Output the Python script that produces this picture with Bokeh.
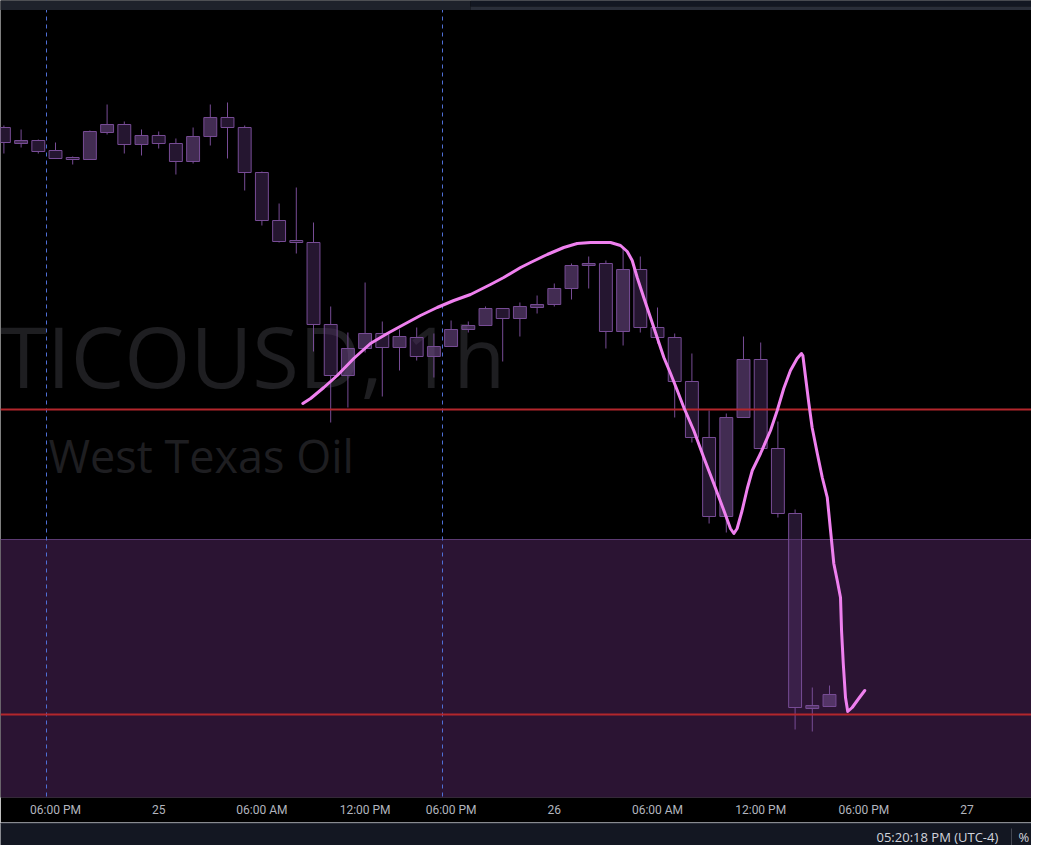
from bokeh.plotting import figure
from bokeh.layouts import column
from bokeh.models import Range1d, FixedTicker, ColumnDataSource, Label
from bokeh.core.properties import value
from bokeh.embed import file_html
from bokeh.resources import INLINE

# ---------------- data ----------------
bar = list(range(-3, 46))  # hourly bar index (0 = Jun 24, 06:00 PM)
opens = [79.73, 79.57, 79.60, 79.50, 79.43, 79.41, 79.68, 79.76, 79.56, 79.65,
         79.57, 79.39, 79.64, 79.83, 79.73, 79.28, 78.80, 78.60, 78.58, 77.76,
         77.25, 77.52, 77.67, 77.53, 77.63, 77.44, 77.54, 77.71, 77.75, 77.92,
         77.82, 77.93, 77.96, 78.12, 78.35, 78.37, 77.69, 78.31, 77.73, 77.63,
         77.19, 76.63, 75.84, 76.83, 77.41, 76.52, 75.87, 73.92, 73.94]
highs = [79.75, 79.71, 79.61, 79.58, 79.44, 79.70, 79.96, 79.79, 79.71, 79.69,
         79.62, 79.73, 79.96, 79.98, 79.75, 79.29, 78.97, 79.13, 78.78, 77.94,
         77.68, 78.18, 77.79, 77.71, 77.73, 77.67, 77.80, 77.79, 77.94, 77.92,
         77.98, 78.05, 78.17, 78.37, 78.44, 78.40, 78.52, 78.44, 77.93, 77.67,
         77.47, 76.90, 76.87, 77.64, 77.58, 76.79, 75.91, 74.13, 74.15]
lows = [79.47, 79.53, 79.47, 79.42, 79.36, 79.41, 79.66, 79.47, 79.45, 79.52,
        79.26, 79.37, 79.55, 79.42, 79.10, 78.75, 78.58, 78.47, 77.49, 76.78,
        76.93, 77.48, 77.04, 77.30, 77.40, 77.23, 77.54, 77.68, 77.75, 77.39,
        77.64, 77.87, 77.94, 78.01, 78.12, 77.52, 77.55, 77.68, 77.57, 76.83,
        76.58, 75.77, 75.68, 76.83, 76.52, 75.83, 73.71, 73.69, 73.94]
closes = [79.58, 79.60, 79.49, 79.42, 79.41, 79.69, 79.76, 79.56, 79.65, 79.57,
          79.39, 79.64, 79.83, 79.73, 79.28, 78.80, 78.59, 78.58, 77.76, 77.25,
          77.52, 77.67, 77.53, 77.64, 77.44, 77.54, 77.71, 77.75, 77.92, 77.82,
          77.94, 77.96, 78.12, 78.35, 78.37, 77.69, 78.31, 77.73, 77.63, 77.19,
          76.63, 75.84, 76.83, 77.41, 76.52, 75.87, 73.93, 73.95, 74.06]

tick_bars = [0, 6, 12, 18, 23, 29, 35, 41, 47, 53]
tick_labels = ["06:00 PM", "25", "06:00 AM", "12:00 PM", "06:00 PM",
               "26", "06:00 AM", "12:00 PM", "06:00 PM", "27"]

session_breaks = [-0.5, 22.5]
levels = [76.91, 73.86]          # horizontal red lines
zone_top = [75.61]               # purple rectangle
zone_bottom = [70.0]

# freehand pink drawing (bar index, price)
pen_x = [14.38, 14.83, 15.60, 16.38, 17.34, 18.31, 19.29, 20.25, 21.22, 22.19,
         23.16, 24.13, 25.29, 26.06, 27.04, 27.62, 28.59, 29.55, 30.33, 31.11,
         32.27, 32.85, 33.24, 33.53, 33.82, 34.20, 34.59, 34.98, 35.37, 35.76,
         36.15, 36.53, 37.11, 37.69, 38.27, 38.86, 39.24, 39.44, 39.63, 39.92,
         40.22, 40.51, 40.99, 41.57, 41.96, 42.34, 42.73, 43.12, 43.37, 43.45,
         43.61, 43.80, 43.99, 44.29, 44.58, 44.87, 45.06, 45.25, 45.45, 45.64,
         45.70, 45.80, 45.93, 46.06, 46.32, 46.70, 47.05]
pen_y = [76.97, 77.02, 77.13, 77.25, 77.42, 77.57, 77.67, 77.76, 77.85, 77.93,
         78.00, 78.06, 78.16, 78.23, 78.33, 78.38, 78.46, 78.53, 78.57, 78.58,
         78.58, 78.55, 78.49, 78.40, 78.23, 78.03, 77.83, 77.63, 77.43, 77.27,
         77.10, 76.93, 76.70, 76.43, 76.17, 75.90, 75.72, 75.67, 75.72, 75.90,
         76.12, 76.30, 76.47, 76.70, 76.90, 77.12, 77.30, 77.42, 77.47, 77.45,
         77.23, 76.97, 76.73, 76.47, 76.23, 76.03, 75.70, 75.37, 75.20, 75.03,
         74.70, 74.37, 74.03, 73.89, 73.93, 74.02, 74.10]

# ---------------- styles ----------------
BORDER = "#774c95"
UP_FILL = "#6e4a88"
DOWN_FILL = "#4a2b60"
RED = "#b3262c"
PINK = "#ef80ef"
ZONE = "#2b1433"
ZONE_EDGE = "#5c3a72"
WATERMARK = "#1e1e21"

body_top = [max(o, c) for o, c in zip(opens, closes)]
body_bot = [min(o, c) for o, c in zip(opens, closes)]
fills = [UP_FILL if c >= o else DOWN_FILL for o, c in zip(opens, closes)]
alphas = [0.6 if c >= o else 0.5 for o, c in zip(opens, closes)]
src = ColumnDataSource(dict(x=bar, o=opens, h=highs, l=lows, c=closes,
                            top=body_top, bot=body_bot, fill=fills, alpha=alphas))

W, H = 1031, 822
p = figure(width=W, height=H, output_backend="svg", toolbar_location=None,
           x_range=Range1d(-3.1977, 56.7442), y_range=Range1d(73.03, 81.00),
           x_axis_location="below", y_axis_location=None,
           min_border_left=0, min_border_right=0, min_border_top=0, min_border_bottom=25,
           background_fill_color="#000000", border_fill_color="#000000",
           outline_line_color=None)
p.grid.visible = False

ax = p.xaxis[0]
ax.ticker = FixedTicker(ticks=tick_bars)
ax.major_label_overrides = {t: s for t, s in zip(tick_bars, tick_labels)}
ax.axis_line_color = None
ax.major_tick_line_color = None
ax.minor_tick_line_color = None
ax.major_tick_out = 0
ax.major_tick_in = 0
ax.major_label_standoff = 5
ax.major_label_text_color = "#b2b5be"
ax.major_label_text_font = "Roboto"
ax.major_label_text_font_size = "12px"

# watermark
p.text(x=[26.16], y=[77.46], text=["TICOUSD, 1h"], text_font=value("Open Sans"),
       text_font_size="85px", text_color=WATERMARK, text_align="right",
       text_baseline="alphabetic")
p.text(x=[-0.41], y=[76.45], text=["West Texas Oil"], text_font=value("Open Sans"),
       text_font_size="45px", text_color=WATERMARK, text_align="left",
       text_baseline="alphabetic")

# purple zone
p.hstrip(y0=zone_bottom, y1=zone_top, fill_color=ZONE, line_color=None)
p.hspan(y=zone_top, line_color=ZONE_EDGE, line_width=1)

# session breaks
p.vspan(x=session_breaks, line_color="#4f6fd6", line_width=1, line_dash="4 4")

# candles
p.segment(x0="x", y0="top", x1="x", y1="h", source=src, line_color=BORDER, line_width=1)
p.segment(x0="x", y0="l", x1="x", y1="bot", source=src, line_color=BORDER, line_width=1)
p.vbar(x="x", width=0.75, top="top", bottom="bot", source=src,
       fill_color="fill", fill_alpha="alpha", line_color=BORDER, line_width=1)

# red levels
p.hspan(y=levels, line_color=RED, line_width=2)

# pink freehand
p.line(pen_x, pen_y, line_color=PINK, line_width=3, line_join="round", line_cap="round")

# top toolbar edge (app chrome)
p.quad(left=[-10], right=[24.13], bottom=[80.905], top=[81.5], fill_color="#1e222b", line_color=None)
p.quad(left=[24.13], right=[70], bottom=[80.94], top=[81.5], fill_color="#131722", line_color=None)
p.quad(left=[24.13], right=[70], bottom=[80.905], top=[80.94], fill_color="#2a2e39", line_color=None)

# bottom status bar
p2 = figure(width=W, height=23, output_backend="svg", toolbar_location=None,
            x_range=Range1d(0, W), y_range=Range1d(0, 23),
            x_axis_location=None, y_axis_location=None,
            min_border_left=0, min_border_right=0, min_border_top=0, min_border_bottom=0,
            background_fill_color="#131722", border_fill_color="#131722",
            outline_line_color=None)
p2.grid.visible = False
p2.hspan(y=[22.5], line_color="#2a2e39", line_width=1)
p2.add_layout(Label(x=876, y=9, text="05:20:18 PM (UTC-4)", text_font="Open Sans",
                    text_font_size="13px", text_color="#d1d4dc", text_baseline="middle"))
p2.segment(x0=[1011], y0=[0], x1=[1011], y1=[17], line_color="#434651", line_width=1)
p2.add_layout(Label(x=1018, y=9, text="%", text_font="Open Sans",
                    text_font_size="13px", text_color="#d1d4dc", text_baseline="middle"))

layout = column(p, p2, spacing=0)
open("out.html", "w").write(file_html(layout, INLINE))
